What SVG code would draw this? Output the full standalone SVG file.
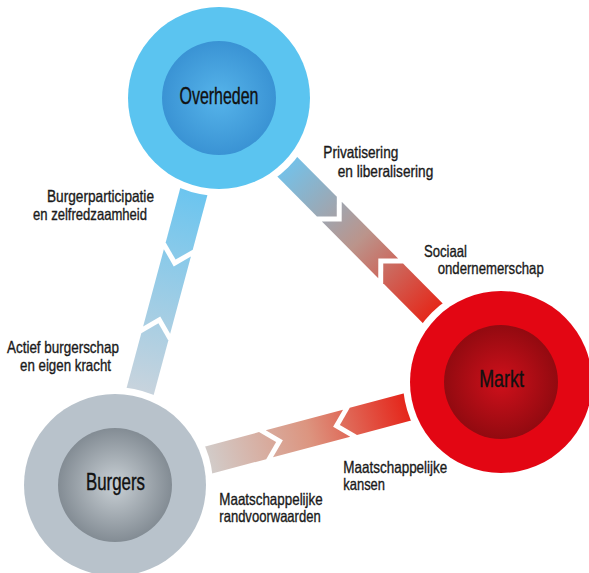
<svg xmlns="http://www.w3.org/2000/svg" width="589" height="573" viewBox="0 0 589 573">
<style>
.lbl{font-family:"Liberation Sans","DejaVu Sans",sans-serif;font-size:16.5px;fill:#1a1a1a;stroke:#1a1a1a;stroke-width:0.35}
.big{font-family:"Liberation Sans","DejaVu Sans",sans-serif;font-size:24px;fill:#111;stroke:#111;stroke-width:0.4;text-anchor:middle}
.gap{fill:#fff}
</style>
<defs>
<linearGradient id="gOM" gradientUnits="userSpaceOnUse" x1="98" y1="0" x2="302" y2="0">
<stop offset="0" stop-color="#76c0e6"/><stop offset="0.5" stop-color="#bb948b"/><stop offset="1" stop-color="#e42a1c"/>
</linearGradient>
<linearGradient id="gOB" gradientUnits="userSpaceOnUse" x1="98" y1="0" x2="302" y2="0">
<stop offset="0" stop-color="#6cc5ef"/><stop offset="1" stop-color="#c7d3dd"/>
</linearGradient>
<linearGradient id="gBM" gradientUnits="userSpaceOnUse" x1="98" y1="0" x2="302" y2="0">
<stop offset="0" stop-color="#d2cbc8"/><stop offset="0.5" stop-color="#dc9580"/><stop offset="1" stop-color="#e5261b"/>
</linearGradient>
<radialGradient id="rO" cx="0.5" cy="0.5" r="0.5"><stop offset="0" stop-color="#56b4ea"/><stop offset="1" stop-color="#3a93d4"/></radialGradient>
<radialGradient id="rM" cx="0.5" cy="0.5" r="0.5"><stop offset="0" stop-color="#cf101b"/><stop offset="1" stop-color="#920a10"/></radialGradient>
<radialGradient id="rB" cx="0.5" cy="0.5" r="0.5"><stop offset="0" stop-color="#c9d0d5"/><stop offset="1" stop-color="#838c94"/></radialGradient>
</defs>

<g id="connectors">
<g id="band-overheden-markt" transform="translate(219,98) rotate(45.2)" fill="url(#gOM)">
<polygon points="0,-14 153.1,-14 167.1,0 153.1,14 0,14"/>
<polygon points="160.1,-14 240.1,-14 226.1,0 240.1,14 160.1,14 174.1,0"/>
<polygon points="247.1,-14 400.2,-14 400.2,14 247.1,14 233.1,0"/>
</g>
<g id="band-overheden-burgers" transform="translate(219,98) rotate(105.04)" fill="url(#gOB)">
<polygon points="0,-14 153.35,-14 167.35,0 153.35,14 0,14"/>
<polygon points="160.35,-14 240.35,-14 226.35,0 240.35,14 160.35,14 174.35,0"/>
<polygon points="247.35,-14 400.7,-14 400.7,14 247.35,14 233.35,0"/>
</g>
<g id="band-burgers-markt" transform="translate(115,485) rotate(-14.94)" fill="url(#gBM)">
<polygon points="0,-14 152.75,-14 166.75,0 152.75,14 0,14"/>
<polygon points="159.75,-14 239.75,-14 225.75,0 239.75,14 159.75,14 173.75,0"/>
<polygon points="246.75,-14 399.5,-14 399.5,14 246.75,14 232.75,0"/>
</g>
<g id="connector-labels">
<text class="lbl" x="323.3" y="158" textLength="75" lengthAdjust="spacingAndGlyphs">Privatisering</text>
<text class="lbl" x="337.7" y="176.5" textLength="95.6" lengthAdjust="spacingAndGlyphs">en liberalisering</text>
<text class="lbl" x="424" y="256.5" textLength="43" lengthAdjust="spacingAndGlyphs">Sociaal</text>
<text class="lbl" x="437.7" y="274" textLength="106" lengthAdjust="spacingAndGlyphs">ondernemerschap</text>
<text class="lbl" x="47" y="202" textLength="107" lengthAdjust="spacingAndGlyphs">Burgerparticipatie</text>
<text class="lbl" x="33" y="220" textLength="114" lengthAdjust="spacingAndGlyphs">en zelfredzaamheid</text>
<text class="lbl" x="7" y="353" textLength="112" lengthAdjust="spacingAndGlyphs">Actief burgerschap</text>
<text class="lbl" x="20" y="371" textLength="91" lengthAdjust="spacingAndGlyphs">en eigen kracht</text>
<text class="lbl" x="343.3" y="473" textLength="104" lengthAdjust="spacingAndGlyphs">Maatschappelijke</text>
<text class="lbl" x="343.3" y="490" textLength="41.7" lengthAdjust="spacingAndGlyphs">kansen</text>
<text class="lbl" x="219.3" y="505" textLength="103.4" lengthAdjust="spacingAndGlyphs">Maatschappelijke</text>
<text class="lbl" x="219.3" y="521.7" textLength="101.4" lengthAdjust="spacingAndGlyphs">randvoorwaarden</text>
</g>
</g>

<g id="node-overheden">
<circle class="gap" cx="219" cy="98" r="98"/>
<circle cx="219" cy="98" r="91" fill="#5bc4f0"/>
<circle cx="219" cy="98" r="57" fill="url(#rO)"/>
<text class="big" x="219" y="104" textLength="79" lengthAdjust="spacingAndGlyphs">Overheden</text>
</g>
<g id="node-markt">
<circle class="gap" cx="501" cy="382" r="98"/>
<circle cx="501" cy="382" r="91" fill="#e30613"/>
<circle cx="501" cy="382" r="57" fill="url(#rM)"/>
<text class="big" x="501.5" y="387.3" textLength="44.7" lengthAdjust="spacingAndGlyphs">Markt</text>
</g>
<g id="node-burgers">
<circle class="gap" cx="115" cy="485" r="98"/>
<circle cx="115" cy="485" r="91" fill="#b8c2cb"/>
<circle cx="115" cy="485" r="57" fill="url(#rB)"/>
<text class="big" x="115.5" y="490" textLength="59" lengthAdjust="spacingAndGlyphs">Burgers</text>
</g>
</svg>
